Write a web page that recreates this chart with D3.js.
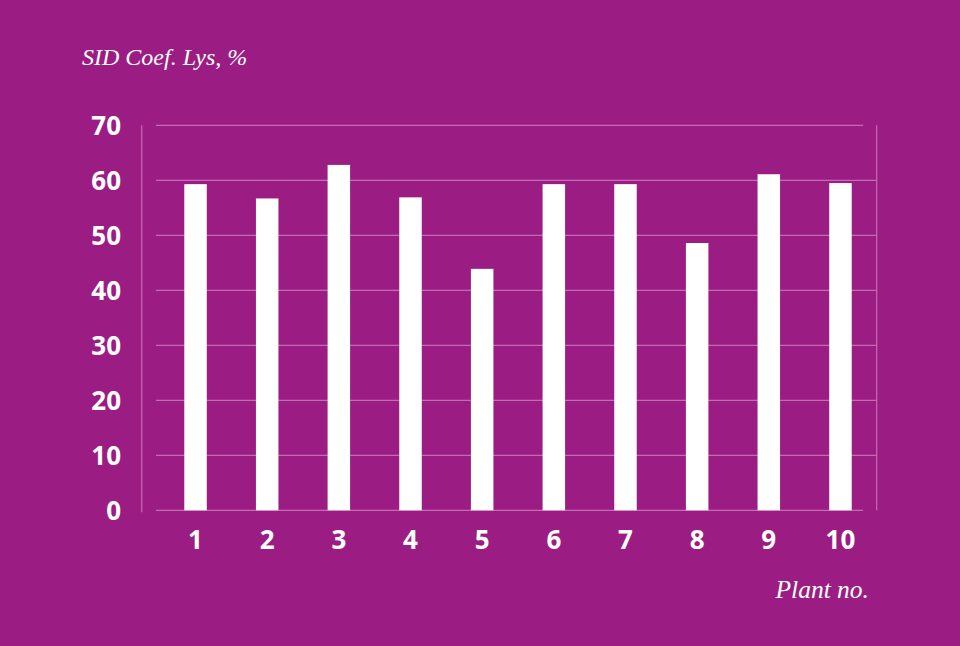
<!DOCTYPE html>
<html>
<head>
<meta charset="utf-8">
<script src="https://cdn.jsdelivr.net/npm/d3@7"></script>
<style>
html,body{margin:0;padding:0;background:#9b1d84;}
svg{display:block;}
</style>
</head>
<body>
<script>
const categories = ["1","2","3","4","5","6","7","8","9","10"];
const values = [59.3, 56.7, 62.8, 56.9, 43.9, 59.3, 59.3, 48.6, 61.1, 59.5];
const yTicks = [0,10,20,30,40,50,60,70];
const yTitle = "SID Coef. Lys, %";
const xTitle = "Plant no.";

const W = 960, H = 646;
const bg = "#9b1d84";
const gridColor = "#c26bb3";

const svg = d3.select("body").append("svg").attr("width", W).attr("height", H);
svg.append("rect").attr("width", W).attr("height", H).attr("fill", bg);

const x = d3.scaleBand().domain(categories).range([159.7, 876.3]).paddingInner(0.686).paddingOuter(0.343);
const y = d3.scaleLinear().domain([0, 70]).range([510.3, 125.3]);

// gridlines
svg.append("g").selectAll("line").data(yTicks).join("line")
  .attr("x1", 156)
  .attr("x2", d => (d === 0 || d === 70) ? 863 : 876.7)
  .attr("y1", d => y(d)).attr("y2", d => y(d))
  .attr("stroke", gridColor).attr("stroke-width", 1.2);

// vertical frame lines
svg.append("line").attr("x1", 141.7).attr("x2", 141.7).attr("y1", y(70)).attr("y2", y(0) + 2)
  .attr("stroke", gridColor).attr("stroke-width", 1.2);
svg.append("line").attr("x1", 876.7).attr("x2", 876.7).attr("y1", y(70)).attr("y2", y(0))
  .attr("stroke", gridColor).attr("stroke-width", 1.2);

// bars
svg.append("g").selectAll("rect").data(values).join("rect")
  .attr("x", (d, i) => x(categories[i]))
  .attr("width", x.bandwidth())
  .attr("y", d => y(d))
  .attr("height", d => y(0) - y(d))
  .attr("fill", "#ffffff");

// y axis labels
const yAxis = d3.axisLeft(y).tickValues(yTicks).tickSize(0).tickPadding(0);
const gy = svg.append("g").attr("transform", "translate(121,0)").call(yAxis);
gy.select(".domain").remove();
gy.selectAll("text")
  .attr("fill", "#ffffff")
  .attr("font-family", "'Open Sans', sans-serif")
  .attr("font-weight", 700)
  .attr("font-size", 26)
  .attr("dy", "0.36em");

// x axis labels
const xAxis = d3.axisBottom(x).tickSize(0).tickPadding(0);
const gx = svg.append("g").attr("transform", "translate(0,540)").call(xAxis);
gx.select(".domain").remove();
gx.selectAll("text")
  .attr("fill", "#ffffff")
  .attr("font-family", "'Open Sans', sans-serif")
  .attr("font-weight", 700)
  .attr("font-size", 26)
  .attr("dy", "0.36em");

// titles
svg.append("text").attr("x", 82).attr("y", 64.5)
  .attr("fill", "#ffffff")
  .attr("font-family", "'Liberation Serif', 'DejaVu Serif', serif")
  .attr("font-style", "italic")
  .attr("font-size", 24)
  .text(yTitle);

svg.append("text").attr("x", 869).attr("y", 598)
  .attr("text-anchor", "end")
  .attr("fill", "#ffffff")
  .attr("font-family", "'Liberation Serif', 'DejaVu Serif', serif")
  .attr("font-style", "italic")
  .attr("font-size", 25.5)
  .text(xTitle);
</script>
</body>
</html>
